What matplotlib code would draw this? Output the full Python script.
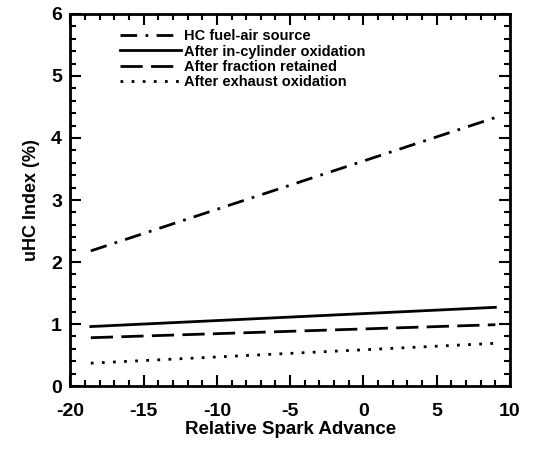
import matplotlib.pyplot as plt
from matplotlib.ticker import MultipleLocator

plt.rcParams['font.family'] = ['Liberation Sans', 'DejaVu Sans']
plt.rcParams['font.weight'] = 'bold'
plt.rcParams['axes.unicode_minus'] = False

# endpoints of each straight line (relative spark advance, uHC index %)
spark = [-18.6, 9.0]
hc_source = [2.18, 4.33]
in_cylinder = [0.96, 1.27]
retained = [0.78, 0.99]
exhaust = [0.37, 0.69]

labels = ['HC fuel-air source', 'After in-cylinder oxidation',
          'After fraction retained', 'After exhaust oxidation']

fig = plt.figure(figsize=(5.49, 4.5), dpi=100)
ax = fig.add_axes([0.128, 0.142, 0.801, 0.827])

ax.plot(spark, hc_source, color='black', lw=2, linestyle=(0, (6, 3, 1, 3)), label=labels[0])
ax.plot(spark, in_cylinder, color='black', lw=2, linestyle='-', label=labels[1])
ax.plot(spark, retained, color='black', lw=2, linestyle=(0, (8, 3)), label=labels[2])
ax.plot(spark, exhaust, color='black', lw=2, linestyle=(0, (1, 3)), label=labels[3])

ax.set_xlim(-20, 10)
ax.set_ylim(0, 6)
ax.xaxis.set_major_locator(MultipleLocator(5))
ax.xaxis.set_minor_locator(MultipleLocator(1))
ax.yaxis.set_major_locator(MultipleLocator(1))
ax.yaxis.set_minor_locator(MultipleLocator(0.2))
ax.tick_params(which='both', direction='in', top=True, right=True, width=1.5, labelsize=14)
ax.tick_params(which='major', length=8)
ax.tick_params(which='minor', length=4)
ax.tick_params(axis='x', pad=12)
ax.tick_params(axis='y', pad=6)
for s in ax.spines.values():
    s.set_linewidth(2)

ax.set_xlabel('Relative Spark Advance', fontsize=13.5, fontweight='bold', labelpad=1)
ax.set_ylabel('uHC Index (%)', fontsize=13, fontweight='bold', labelpad=8)

ax.legend(loc='upper left', bbox_to_anchor=(0.1, 0.975), frameon=False, fontsize=10.5,
          handlelength=4.2, handletextpad=0.2, labelspacing=0.1, borderaxespad=0)

fig.savefig('out.png', dpi=100)
